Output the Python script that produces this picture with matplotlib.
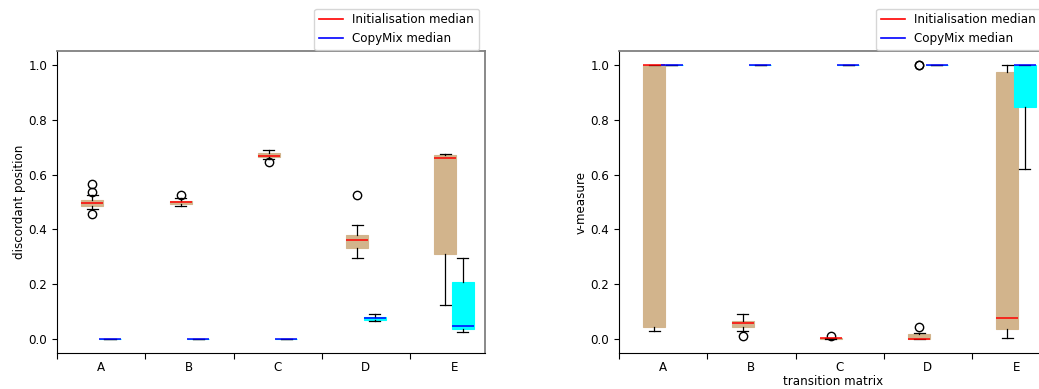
import numpy as np
import matplotlib
matplotlib.use('Agg')
import matplotlib.pyplot as plt
from matplotlib.lines import Line2D

labels = ['A', 'B', 'C', 'D', 'E']

# discordant position, initialisation
dp_init_q1 = [0.486, 0.493, 0.663, 0.331, 0.312]
dp_init_med = [0.498, 0.499, 0.667, 0.363, 0.661]
dp_init_q3 = [0.508, 0.505, 0.677, 0.380, 0.671]
dp_init_lo = [0.474, 0.487, 0.655, 0.295, 0.126]
dp_init_hi = [0.524, 0.516, 0.688, 0.417, 0.675]
dp_init_fliers = [[0.566, 0.538, 0.456], [0.524], [0.645], [0.526], []]

# discordant position, CopyMix
dp_cm_q1 = [0.0, 0.0, 0.0, 0.070, 0.039]
dp_cm_med = [0.0, 0.0, 0.0, 0.076, 0.048]
dp_cm_q3 = [0.0, 0.0, 0.0, 0.082, 0.208]
dp_cm_lo = [0.0, 0.0, 0.0, 0.065, 0.028]
dp_cm_hi = [0.0, 0.0, 0.0, 0.092, 0.295]
dp_cm_fliers = [[], [], [], [], []]

# v-measure, initialisation
vm_init_q1 = [0.046, 0.045, 0.0, 0.0, 0.036]
vm_init_med = [1.0, 0.059, 0.004, 0.0, 0.076]
vm_init_q3 = [1.0, 0.068, 0.005, 0.018, 0.972]
vm_init_lo = [0.030, 0.030, 0.0, 0.0, 0.006]
vm_init_hi = [1.0, 0.093, 0.006, 0.023, 1.0]
vm_init_fliers = [[], [0.012], [0.012], [0.046, 1.0, 1.0], []]

# v-measure, CopyMix
vm_cm_q1 = [1.0, 1.0, 1.0, 1.0, 0.846]
vm_cm_med = [1.0, 1.0, 1.0, 1.0, 1.0]
vm_cm_q3 = [1.0, 1.0, 1.0, 1.0, 1.0]
vm_cm_lo = [1.0, 1.0, 1.0, 1.0, 0.620]
vm_cm_hi = [1.0, 1.0, 1.0, 1.0, 1.0]
vm_cm_fliers = [[], [], [], [], []]

FS = 8.6


def make_stats(q1, med, q3, lo, hi, fl):
    return [dict(q1=a, med=b, q3=c, whislo=d, whishi=e, fliers=f)
            for a, b, c, d, e, f in zip(q1, med, q3, lo, hi, fl)]


def draw(ax, s_init, s_cm, ylabel, xlabel=None):
    n = len(labels)
    pos = np.arange(n)
    for stats, off, face, medc in [(s_init, 0.4, 'tan', 'red'), (s_cm, 0.6, 'cyan', 'blue')]:
        ax.bxp(stats, positions=pos + off, widths=0.25, patch_artist=True,
               boxprops=dict(facecolor=face, edgecolor=face, linewidth=0.8),
               medianprops=dict(color=medc, linewidth=1.1),
               whiskerprops=dict(color='black', linewidth=0.9),
               capprops=dict(color='black', linewidth=0.9),
               flierprops=dict(marker='o', markerfacecolor='none', markeredgecolor='black',
                               markersize=6, markeredgewidth=1.0),
               manage_ticks=False)
    ax.set_xlim(0, 4.85)
    ax.set_ylim(-0.05, 1.05)
    ax.set_xticks(pos)
    ax.set_xticklabels([])
    ax.set_xticks(pos + 0.5, minor=True)
    ax.set_xticklabels(labels, minor=True, fontsize=FS)
    ax.tick_params(axis='x', which='minor', length=0, pad=5.5)
    ax.tick_params(axis='x', which='major', length=4.5)
    ax.set_yticks([0.0, 0.2, 0.4, 0.6, 0.8, 1.0])
    ax.set_yticklabels(['0.0', '0.2', '0.4', '0.6', '0.8', '1.0'], fontsize=FS)
    ax.set_ylabel(ylabel, fontsize=FS, labelpad=2)
    if xlabel:
        ax.set_xlabel(xlabel, fontsize=FS, labelpad=1)
    for side in ['top', 'right']:
        ax.spines[side].set_color('#808080')
        ax.spines[side].set_linewidth(1.3)
    handles = [Line2D([], [], color='red', linewidth=1.2),
               Line2D([], [], color='blue', linewidth=1.2)]
    ax.legend(handles, ['Initialisation median', 'CopyMix median'], loc='lower right',
              bbox_to_anchor=(0.986, 1.003), borderaxespad=0, fontsize=FS)


fig = plt.figure(figsize=(10.39, 3.89), dpi=100)
ax1 = fig.add_axes([0.0549, 0.0925, 0.4119, 0.7763])
ax2 = fig.add_axes([0.5958, 0.0925, 0.4119, 0.7763])

draw(ax1, make_stats(dp_init_q1, dp_init_med, dp_init_q3, dp_init_lo, dp_init_hi, dp_init_fliers),
     make_stats(dp_cm_q1, dp_cm_med, dp_cm_q3, dp_cm_lo, dp_cm_hi, dp_cm_fliers),
     'discordant position')
draw(ax2, make_stats(vm_init_q1, vm_init_med, vm_init_q3, vm_init_lo, vm_init_hi, vm_init_fliers),
     make_stats(vm_cm_q1, vm_cm_med, vm_cm_q3, vm_cm_lo, vm_cm_hi, vm_cm_fliers),
     'v-measure', 'transition matrix')

fig.savefig('out.png', dpi=100)
